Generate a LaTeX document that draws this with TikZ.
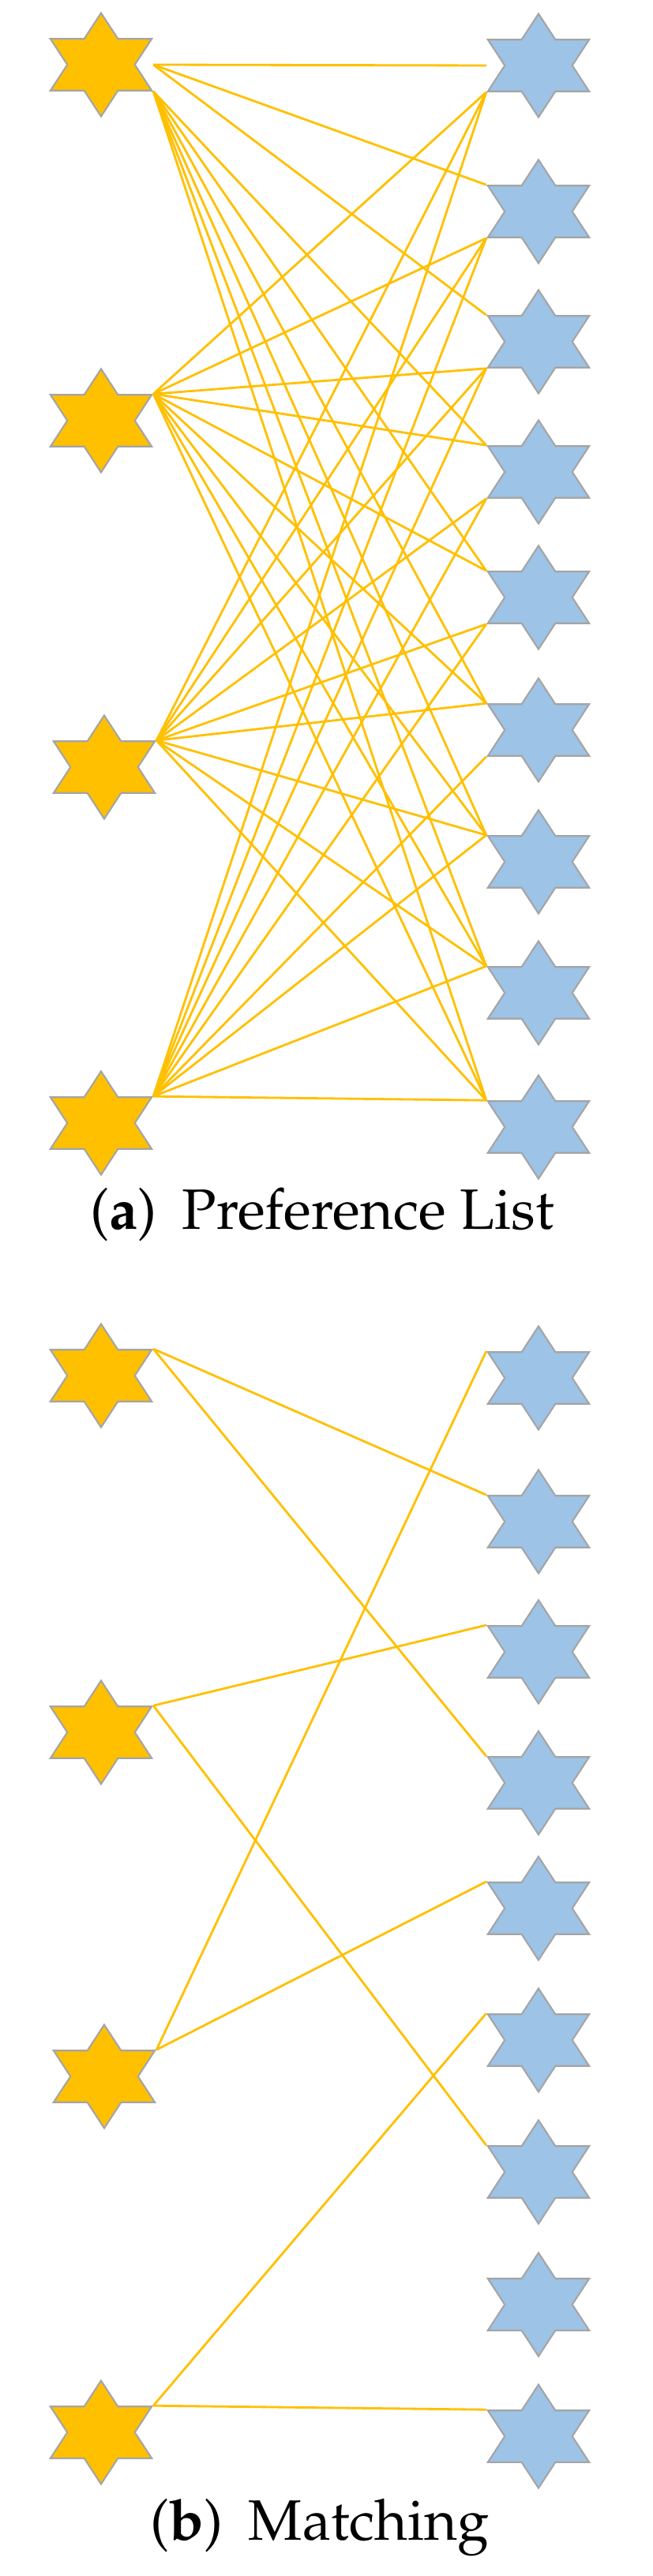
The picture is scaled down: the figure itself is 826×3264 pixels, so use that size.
\documentclass[tikz,border=0pt]{standalone}
\usepackage[T1]{fontenc}
\usepackage{mathpazo}
\usepackage{tikz}
\usetikzlibrary{shapes.geometric}
\definecolor{gold}{HTML}{FFC000}
\definecolor{skyblue}{HTML}{9DC3E6}
\definecolor{rimgray}{HTML}{A5A5A5}

\begin{document}
\begin{tikzpicture}[
    x=0.01cm, y=-0.01cm,
    hex/.style={star, star points=6, star point ratio=1.732, inner sep=0pt, minimum size=1.31cm, draw=rimgray, line width=0.6pt, xscale=1.13},
    mstar/.style={hex, fill=gold},
    wstar/.style={hex, fill=skyblue},
    link/.style={draw=gold, line width=0.8pt},
    captext/.style={font=\fontsize{20.5}{24}\selectfont, anchor=base}
]
\useasboundingbox (0,0) rectangle (826,3264);

% (a) preference list
\foreach \x/\y [count=\i] in {128/82, 128/533, 132/972, 128/1423}
    \node[mstar] (la\i) at (\x,\y) {};
\foreach \y [count=\i] in {83, 268, 433, 598, 757, 925, 1092, 1258, 1428}
    \node[wstar] (ra\i) at (682,\y) {};

\draw[link] (la1.outer point 6|-la1.center) -- (ra1.outer point 2|-ra1.center);
\foreach \r in {2,3} \draw[link] (la1.outer point 6|-la1.center) -- (ra\r.outer point 2);
\foreach \r in {4,...,9} \draw[link] (la1.outer point 5) -- (ra\r.outer point 2);
\foreach \r in {1,2,3} \draw[link] (la2.outer point 6) -- (ra\r.outer point 3);
\foreach \r in {4,...,9} \draw[link] (la2.outer point 6) -- (ra\r.outer point 2);
\foreach \r in {1,...,5} \draw[link] (la3.outer point 6) -- (ra\r.outer point 3);
\foreach \r in {6,...,9} \draw[link] (la3.outer point 6) -- (ra\r.outer point 2);
\foreach \r in {1,...,6} \draw[link] (la4.outer point 6) -- (ra\r.outer point 3);
\foreach \r in {7,8,9} \draw[link] (la4.outer point 6) -- (ra\r.outer point 2);

\node[captext] (capa) at (408,1557) {(\textbf{a})\hspace{0.45em}Preference List};

% (b) matching
\foreach \x/\y [count=\i] in {128/1743, 128/2195, 132/2631, 128/3082}
    \node[mstar] (lb\i) at (\x,\y) {};
\foreach \y [count=\i] in {1746, 1928, 2093, 2259, 2418, 2585, 2752, 2920, 3087}
    \node[wstar] (rb\i) at (682,\y) {};

\foreach \l/\r in {1/2, 1/4, 2/3, 2/7, 3/1, 3/5, 4/6, 4/9}
    \draw[link] (lb\l.outer point 6) -- (rb\r.outer point 2);

\node[captext] (capb) at (405,3218) {(\textbf{b})\hspace{0.45em}Matching};
\end{tikzpicture}
\end{document}
